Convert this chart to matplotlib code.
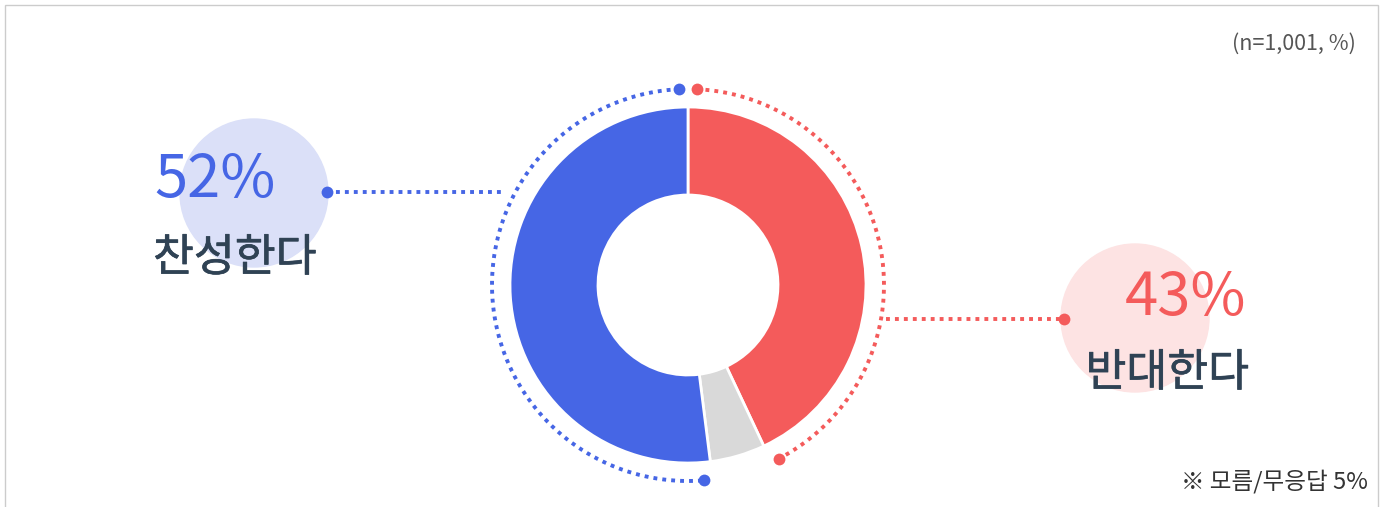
import numpy as np
import matplotlib.pyplot as plt
import matplotlib.patheffects as pe
from matplotlib.patches import Circle, Rectangle

plt.rcParams['font.family'] = ['Noto Sans CJK KR', 'DejaVu Sans']

labels = ['반대한다', '모름/무응답', '찬성한다']
values = [43, 5, 52]
colors = ['#f45b5b', '#d9d9d9', '#4666e5']
note = '(n=1,001, %)'
footnote = '※ 모름/무응답 5%'

W, H = 1384, 507
fig = plt.figure(figsize=(W / 100, H / 100), dpi=100)
ax = fig.add_axes([0, 0, 1, 1])

# frame
ax.add_patch(Rectangle((5, -5), 1373, H, fill=False, ec='#cccccc', lw=1))

cx, cy = 688, H - 285
r_out, r_in = 178, 90
ax.pie(values, colors=colors, startangle=90, counterclock=False,
       radius=r_out, center=(cx, cy), frame=True,
       wedgeprops=dict(width=r_out - r_in, edgecolor='white', linewidth=2))
ax.set_xlim(0, W)
ax.set_ylim(0, H)
ax.set_aspect('equal')
ax.axis('off')

dots = (0, (1.0, 1.3))

# dotted arcs around the red and blue slices
r_arc = 196
gap = 2.5
total = sum(values)
red_span = 360 * values[0] / total
blue_span = 360 * values[2] / total


def dotted_arc(a0, a1, color):
    t = np.radians(np.linspace(a0, a1, 200))
    xs = cx + r_arc * np.cos(t)
    ys = cy + r_arc * np.sin(t)
    ax.plot(xs, ys, color=color, lw=2.8, ls=dots, solid_capstyle='butt')
    ax.plot([xs[0], xs[-1]], [ys[0], ys[-1]], 'o', color=color, ms=8.5, mec='none')


dotted_arc(90 + gap, 90 + blue_span - gap, colors[2])
dotted_arc(90 - gap, 90 - red_span + gap, colors[0])

# leader lines
ax.plot([327, 502], [H - 192, H - 192], color=colors[2], lw=2.8, ls=dots)
ax.plot([327], [H - 192], 'o', color=colors[2], ms=8.5, mec='none')
ax.plot([886, 1064], [H - 319, H - 319], color=colors[0], lw=2.8, ls=dots)
ax.plot([1064], [H - 319], 'o', color=colors[0], ms=8.5, mec='none')

# background circles
ax.add_patch(Circle((254, H - 193), 74, color='#dbe0f8', zorder=0))
ax.add_patch(Circle((1135, H - 318), 74, color='#fde3e3', zorder=0))

# labels
medium = [pe.withStroke(linewidth=0.5, foreground='#2f4254')]
ax.text(154, H - 180, f'{values[2]}%', color=colors[2], fontsize=43,
        fontweight='light', ha='left', va='center')
ax.text(153, H - 258, labels[2], color='#2f4254', fontsize=32,
        ha='left', va='center', path_effects=medium)
ax.text(1246, H - 298, f'{values[0]}%', color=colors[0], fontsize=43,
        fontweight='light', ha='right', va='center')
ax.text(1249, H - 373, labels[0], color='#2f4254', fontsize=32,
        ha='right', va='center', path_effects=medium)

ax.text(1356, H - 44, note, color='#555555', fontsize=15.5, ha='right', va='center',
        fontweight='light')
ax.text(1368, H - 482, footnote, color='#333333', fontsize=17, ha='right', va='center',
        fontweight='light')

fig.savefig('out.png', dpi=100)
